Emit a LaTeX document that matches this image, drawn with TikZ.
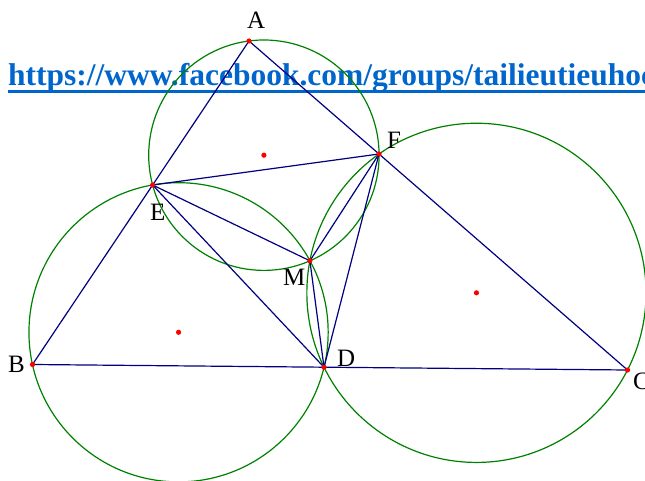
\documentclass[tikz,border=0pt]{standalone}
\usepackage{fontspec}
\setmainfont{Liberation Serif}
\begin{document}
\begin{tikzpicture}[x=1pt,y=-1pt,
  seg/.style={draw={rgb,255:red,0;green,0;blue,128},line width=1.2pt},
  circ/.style={draw={rgb,255:red,0;green,128;blue,0},line width=1.2pt},
  pt/.style={fill=red},
  lbl/.style={anchor=base west,inner sep=0pt,font=\fontsize{25}{25}\selectfont}]
\useasboundingbox (0,0) rectangle (645,481);
\clip (0,0) rectangle (645,481);
\definecolor{urlblue}{RGB}{0,102,204}
% coordinates
\coordinate (A) at (249,41);
\coordinate (B) at (32.5,364.5);
\coordinate (C) at (627.5,370);
\coordinate (D) at (324,367.2);
\coordinate (E) at (152.6,185);
\coordinate (F) at (379,154);
\coordinate (M) at (309.9,260.8);
\coordinate (O1) at (263.9,155.2);
\coordinate (O2) at (178.56,332.3);
\coordinate (O3) at (476.45,292.83);
% url
\node[anchor=base west,inner sep=0pt,text=urlblue,font=\fontsize{31.5}{32}\selectfont\bfseries] (url) at (8,86) {https://www.facebook.com/groups/tailieutieuhoc};
\draw[urlblue,line width=3pt] (8,91.5) -- (680,91.5);
% circles
\draw[circ] (O1) circle[radius=115.2];
\draw[circ] (O2) circle[radius=149.6];
\draw[circ] (O3) circle[radius=169.6];
% segments
\draw[seg] (A) -- (B) -- (C) -- cycle;
\draw[seg] (E) -- (F) -- (D) -- cycle;
\draw[seg] (E) -- (M) -- (F);
\draw[seg] (M) -- (D);
% dots
\foreach \p in {A,B,C,D,E,F,M,O1,O2,O3} \fill[pt] (\p) circle[radius=2.6];
% labels
\node[lbl] (lA) at (247,29) {A};
\node[lbl] (lB) at (8,372) {B};
\node[lbl] (lC) at (633,389) {C};
\node[lbl] (lD) at (337,366) {D};
\node[lbl] (lE) at (150,220) {E};
\node[lbl] (lF) at (387,149) {F};
\node[lbl] (lM) at (283,285) {M};
\end{tikzpicture}
\end{document}
